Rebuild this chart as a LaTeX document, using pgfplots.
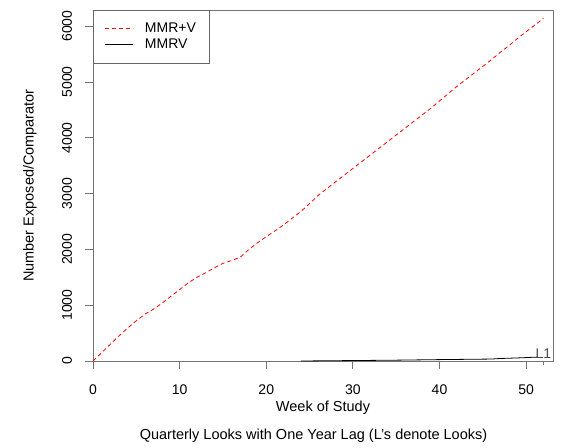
\documentclass[border=0pt]{standalone}
\usepackage{pgfplots}
\pgfplotsset{compat=1.18}
\usepackage{fontspec}
\setmainfont{Liberation Sans}

\pgfplotstableread{
week value
0 0
1 150
2 300
3 450
4 590
5 720
6 840
7 930
8 1040
9 1160
10 1280
11 1400
12 1500
13 1580
14 1670
15 1750
16 1800
17 1860
18 2000
19 2120
20 2228
21 2330
22 2440
23 2560
24 2680
25 2820
26 2970
27 3090
28 3210
29 3330
30 3450
31 3570
32 3690
33 3810
34 3930
35 4050
36 4170
37 4290
38 4410
39 4530
40 4660
41 4790
42 4920
43 5040
44 5160
45 5280
46 5400
47 5530
48 5650
49 5780
50 5900
51 6020
52 6140
}\mmrplusv

\pgfplotstableread{
week value
24 0
30 8
35 15
40 25
46 35
47 45
49 55
51.3 70
}\mmrv

\begin{document}
\begin{tikzpicture}
\begin{axis}[
    name=ax, at={(0,0)}, anchor=south west,
    scale only axis, width=460pt, height=351pt,
    xmin=0, xmax=53.1, ymin=0, ymax=6290,
    axis line style={draw=black!55, line width=0.8pt},
    xtick={0,10,...,50}, ytick={0,1000,...,6000},
    extra x ticks={52}, extra x tick labels={},
    extra x tick style={major tick length=4pt},
    xtick pos=bottom, ytick pos=left,
    tick align=outside, major tick length=8pt,
    tick style={draw=black!55, line width=0.8pt},
    ticklabel style={font=\fontsize{14}{16}\selectfont},
    /pgf/number format/assume math mode=true,
    /pgf/number format/set thousands separator={},
    xticklabel style={anchor=center, yshift=-21pt},
    yticklabel style={anchor=center, xshift=-18pt, rotate=90},
    every axis x label/.style={at={(rel axis cs:0.5,0)}, anchor=center, yshift=-47pt, font=\fontsize{14.5}{16}\selectfont},
    every axis y label/.style={at={(rel axis cs:0,0.5)}, anchor=center, xshift=-63pt, rotate=90, font=\fontsize{14.5}{16}\selectfont},
    xlabel={Week of Study},
    ylabel={Number Exposed/Comparator},
    legend style={at={(0,1)}, anchor=north west, draw=black!60, fill=white,
        font=\fontsize{14}{16}\selectfont, inner xsep=11pt, inner ysep=11pt,
        row sep=1pt, cells={anchor=west},
        /tikz/every odd column/.append style={column sep=10pt}},
    legend image code/.code={\draw[#1] (0pt,0pt) -- (28pt,0pt);},
]
\addplot[draw=red, line width=0.8pt, dash pattern=on 4pt off 3pt] table[x=week, y=value] {\mmrplusv};
\addlegendentry{MMR+V}
\addplot[draw=black, line width=0.8pt] table[x=week, y=value] {\mmrv};
\addlegendentry{MMRV}
\node[font=\fontsize{14}{16}\selectfont, text=black!70] at (axis cs:52,140) {L1};
\end{axis}
\node[font=\fontsize{14.5}{16}\selectfont, anchor=center] at (ax.south) [xshift=-9.5pt, yshift=-75pt] {Quarterly Looks with One Year Lag (L's denote Looks)};
\pgfresetboundingbox
\path[use as bounding box] (-93pt,-86pt) rectangle ++(561pt,447pt);
\end{tikzpicture}
\end{document}
